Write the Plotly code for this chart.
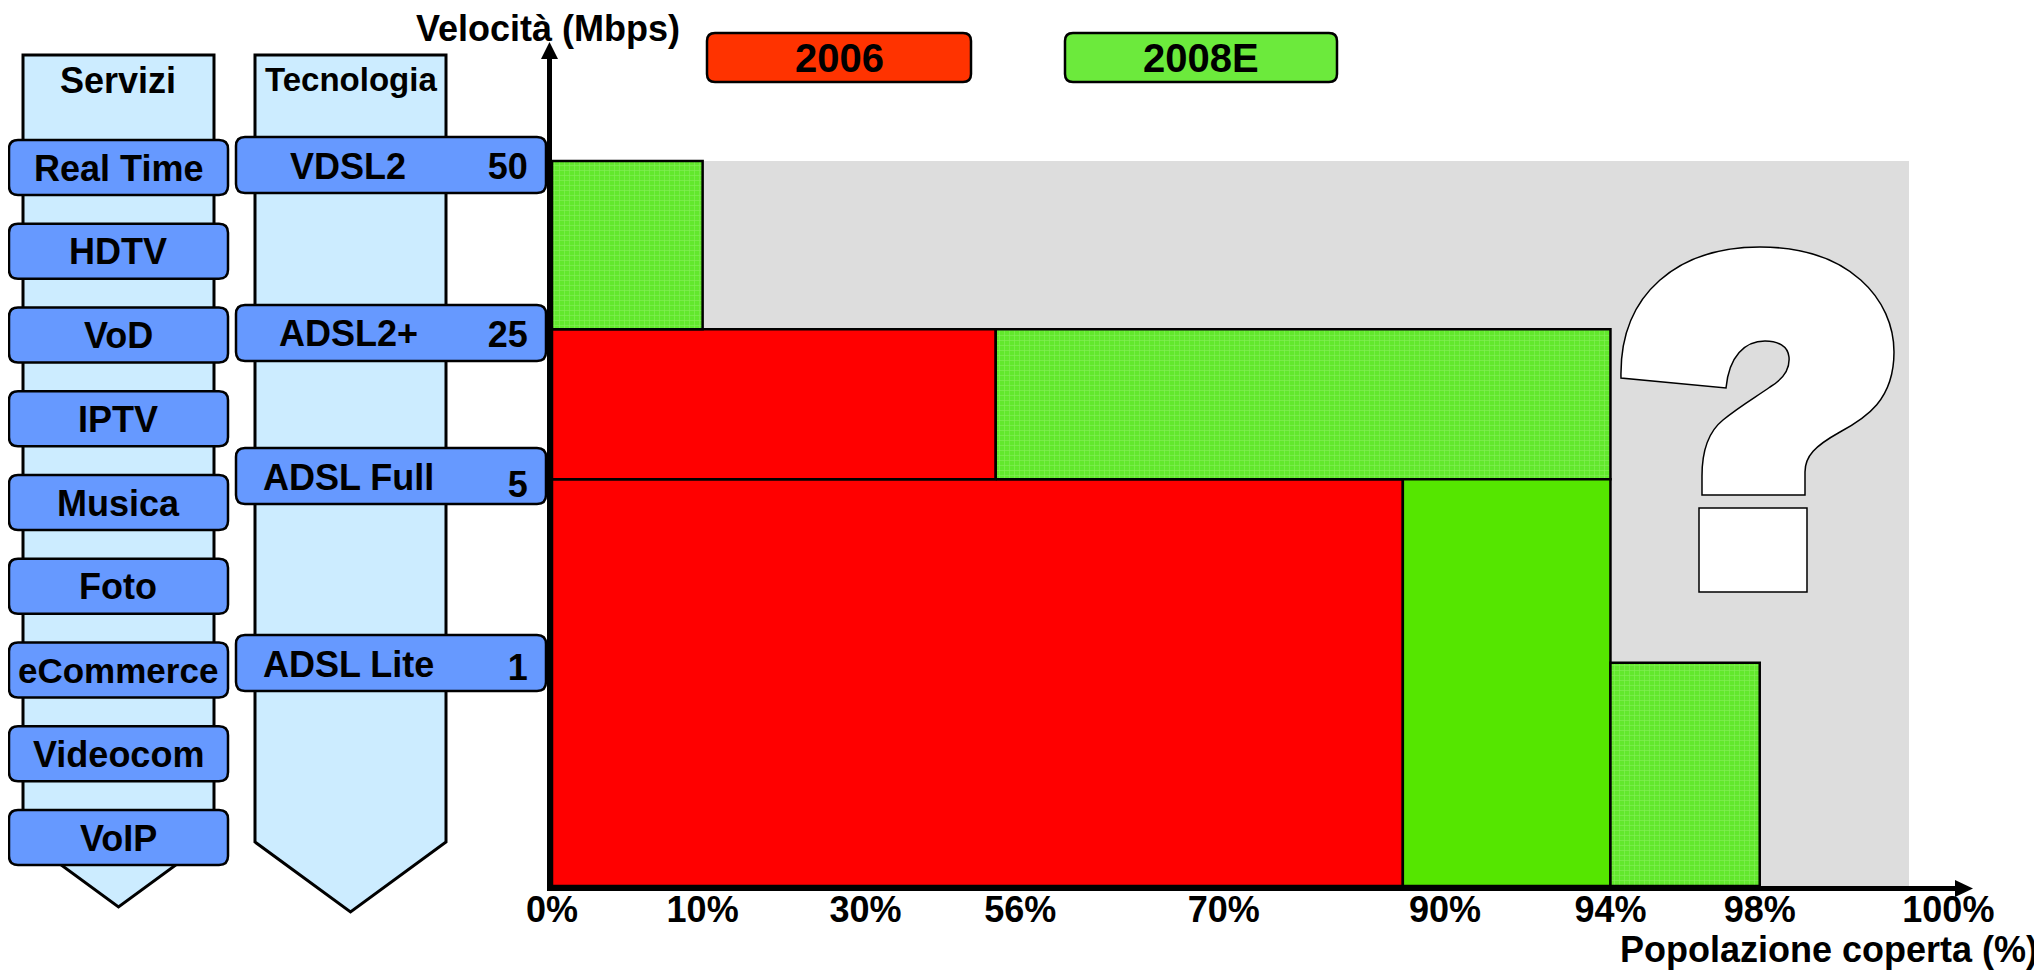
import plotly.graph_objects as go

# ---------------- data ----------------
x_tick_labels = ["0%", "10%", "30%", "56%", "70%", "90%", "94%", "98%", "100%"]
x_tick_pos = [0.0, 11.1, 23.1, 34.5, 49.5, 65.8, 78.0, 89.0, 102.9]

y_tick_labels = ["1", "5", "25", "50"]
y_tick_pos = [30.8, 56.1, 76.8, 100.0]

# 2006 coverage blocks (x: population covered, y: speed band)
x0_2006 = [0.0, 0.0]
x1_2006 = [62.7, 32.7]
y0_2006 = [0.0, 56.1]
y1_2006 = [56.1, 76.8]

# 2008E coverage blocks
x0_2008 = [0.0, 32.7, 62.7, 78.0]
x1_2008 = [11.1, 78.0, 78.0, 89.0]
y0_2008 = [76.8, 56.1, 0.0, 0.0]
y1_2008 = [100.0, 76.8, 56.1, 30.8]

# total area (100% population, max speed)
total_x = [0.0, 100.0]
total_y = [0.0, 100.0]

servizi = ["Real Time", "HDTV", "VoD", "IPTV", "Musica", "Foto", "eCommerce", "Videocom", "VoIP"]
tecnologie = ["VDSL2", "ADSL2+", "ADSL Full", "ADSL Lite"]
legend_labels = ["2006", "2008E"]

# ---------------- layout helpers ----------------
W, H = 2042, 978
OFF = 8                      # page body margin
L_SCR, T_SCR = 552, 58       # plot-area corner on screen
PW, PH = 1406, 828
XU, YU = 13.57, 7.25

FONT = "Liberation Sans, Arial, sans-serif"
RED = "#FF0000"
GREEN_SOLID = "#55E600"
GREEN_TEX = "#62E82C"
GRAY = "#DDDDDD"
BTN = "#6699FF"
COL = "#CCECFF"


def px(x):
    return (x - L_SCR) / PW


def py(y):
    return 1 - (y - T_SCR) / PH


def pt(x, y):
    return f"{px(x):.5f},{py(y):.5f}"


def rrect(x0, y0, x1, y1, r):
    return (f"M{pt(x0 + r, y0)} L{pt(x1 - r, y0)} Q{pt(x1, y0)} {pt(x1, y0 + r)} "
            f"L{pt(x1, y1 - r)} Q{pt(x1, y1)} {pt(x1 - r, y1)} L{pt(x0 + r, y1)} "
            f"Q{pt(x0, y1)} {pt(x0, y1 - r)} L{pt(x0, y0 + r)} Q{pt(x0, y0)} {pt(x0 + r, y0)} Z")


shapes = []
annotations = []


def add_path(path, fill, lw=2.5, layer="below", lc="black"):
    shapes.append(dict(type="path", xref="paper", yref="paper", path=path,
                       fillcolor=fill, line=dict(color=lc, width=lw), layer=layer))


def add_text(x, y, text, size=36, xanchor="center", yanchor="middle"):
    annotations.append(dict(xref="paper", yref="paper", x=px(x), y=py(y), text=text,
                            showarrow=False, xanchor=xanchor, yanchor=yanchor,
                            font=dict(family=FONT, size=size, color="black", weight="bold")))


def chevron(x0, x1, top, side_bottom, tip):
    cx = (x0 + x1) / 2
    return (f"M{pt(x0, top)} L{pt(x1, top)} L{pt(x1, side_bottom)} L{pt(cx, tip)} "
            f"L{pt(x0, side_bottom)} Z")


# columns
add_path(chevron(23, 214, 55, 837, 907), COL, 3)
add_path(chevron(255, 446, 55, 842, 912), COL, 3)
add_text(118.5, 80, "Servizi", 36)
add_text(350.5, 79, "Tecnologia", 33)

# service buttons
for i, s in enumerate(servizi):
    top = 140 + i * 83.75
    add_path(rrect(9, top, 228, top + 55, 9), BTN, 2.5)
    add_text(118.5, top + 28, s, 36 if s != "eCommerce" else 35)

# technology buttons
tech_tops = [137, 305, 448, 635]
for t, top in zip(tecnologie, tech_tops):
    add_path(rrect(236, top, 546, top + 56, 9), BTN, 2.5)
    add_text(348, top + 29, t, 36)

# legend boxes
add_path(rrect(707, 33, 971, 82, 8), "#FF3300", 2.5, layer="above")
add_path(rrect(1065, 33, 1337, 82, 8), "#6CEA3C", 2.5, layer="above")
add_text(839, 58, legend_labels[0], 40)
add_text(1201, 58, legend_labels[1], 40)

# axis titles
add_text(548, 28, "Velocità (Mbps)", 36)
add_text(2040, 950, "Popolazione coperta (%)", 36, xanchor="right")

# arrowheads
add_path(f"M{pt(549.5, 42)} L{pt(541, 59)} L{pt(558, 59)} Z", "black", 0, layer="above")
add_path(f"M{pt(1973, 888.5)} L{pt(1955, 880)} L{pt(1955, 897)} Z", "black", 0, layer="above")

# question mark
qpath = (f"M{pt(1621, 378)} C{pt(1619, 292)} {pt(1680, 247)} {pt(1760, 247)} "
         f"C{pt(1850, 247)} {pt(1894, 300)} {pt(1894, 352)} "
         f"C{pt(1894, 400)} {pt(1866, 418)} {pt(1840, 432)} "
         f"C{pt(1815, 446)} {pt(1805, 456)} {pt(1805, 472)} "
         f"L{pt(1805, 495)} L{pt(1702, 495)} L{pt(1702, 476)} "
         f"C{pt(1702, 450)} {pt(1708, 432)} {pt(1723, 420)} "
         f"C{pt(1740, 406)} {pt(1756, 397)} {pt(1770, 387)} "
         f"C{pt(1785, 378)} {pt(1790, 368)} {pt(1789, 357)} "
         f"C{pt(1788, 346)} {pt(1778, 341)} {pt(1765, 341)} "
         f"C{pt(1745, 341)} {pt(1729, 356)} {pt(1726, 388)} Z")
add_path(qpath, "white", 1.5, layer="above")
add_path(f"M{pt(1699, 508)} L{pt(1807, 508)} L{pt(1807, 592)} L{pt(1699, 592)} Z",
         "white", 1.5, layer="above")

# ---------------- traces ----------------
fig = go.Figure()


def rect_xy(x0, x1, y0, y1):
    return [x0, x1, x1, x0, x0], [y0, y0, y1, y1, y0]


gx, gy = rect_xy(total_x[0], total_x[1], total_y[0], total_y[1])
fig.add_trace(go.Scatter(x=gx, y=gy, mode="lines", fill="toself", fillcolor=GRAY,
                         line=dict(width=0, color=GRAY), hoverinfo="skip", showlegend=False))

for a, b, c, d in zip(x0_2006, x1_2006, y0_2006, y1_2006):
    xs, ys = rect_xy(a, b, c, d)
    fig.add_trace(go.Scatter(x=xs, y=ys, mode="lines", fill="toself", fillcolor=RED,
                             line=dict(width=2.5, color="black"), name=legend_labels[0],
                             showlegend=False))

textured = [True, True, False, True]
for a, b, c, d, tx in zip(x0_2008, x1_2008, y0_2008, y1_2008, textured):
    xs, ys = rect_xy(a, b, c, d)
    kw = {}
    if tx:
        kw["fillpattern"] = dict(shape="+", fgcolor="rgba(210,255,190,0.55)",
                                 bgcolor=GREEN_TEX, size=5, solidity=0.25)
        kw["fillcolor"] = GREEN_TEX
    else:
        kw["fillcolor"] = GREEN_SOLID
    fig.add_trace(go.Scatter(x=xs, y=ys, mode="lines", fill="toself",
                             line=dict(width=2.5, color="black"), name=legend_labels[1],
                             showlegend=False, **kw))

tickfont = dict(family=FONT, size=36, color="black", weight="bold")
L_FIG, T_FIG = L_SCR - OFF, T_SCR - OFF
fig.update_layout(
    width=W, height=H,
    margin=dict(l=L_FIG, r=W - L_FIG - PW, t=T_FIG, b=H - T_FIG - PH, pad=0),
    paper_bgcolor="white", plot_bgcolor="rgba(0,0,0,0)",
    showlegend=False,
    shapes=shapes, annotations=annotations,
    xaxis=dict(range=[0, PW / XU], showgrid=False, zeroline=False, showline=True,
               linewidth=5, linecolor="black", ticks="", tickvals=x_tick_pos,
               ticktext=x_tick_labels, tickfont=tickfont, ticklabelstandoff=-12,
               fixedrange=True),
    yaxis=dict(range=[0, PH / YU], showgrid=False, zeroline=False, showline=True,
               linewidth=5, linecolor="black", ticks="", tickvals=y_tick_pos,
               ticktext=y_tick_labels, tickfont=tickfont, ticklabelstandoff=12,
               ticklabelshift=5, fixedrange=True),
)

fig.write_html("out.html")
